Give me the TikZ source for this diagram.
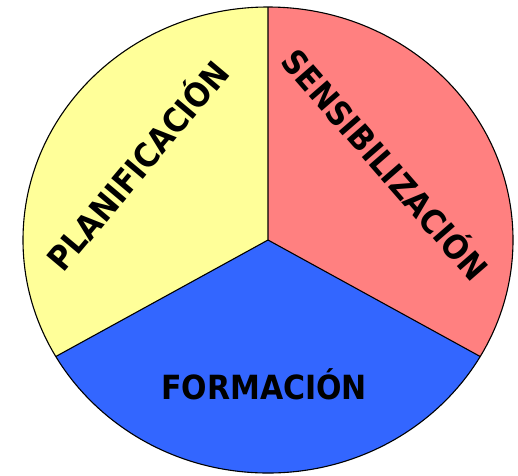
\documentclass[tikz,border=0pt]{standalone}
\usepackage{fontspec}
\setmainfont{DejaVu Sans Condensed}
\definecolor{cyellow}{HTML}{FFFF99}
\definecolor{cred}{HTML}{FF8080}
\definecolor{cblue}{HTML}{3366FF}
\tikzset{
  sector/.style={draw=black, line width=1.1pt, line join=round},
  lbl/.style={font=\fontsize{33.3}{33.3}\selectfont\bfseries, text=black, inner sep=0pt}
}
\begin{document}
\begin{tikzpicture}[x=1pt,y=1pt]
\useasboundingbox (0,0) rectangle (518,-475);
\coordinate (c) at (268,-240);
\fill[cyellow] (c) -- (268,-7) arc[start angle=90, end angle=210, x radius=245, y radius=233] -- cycle;
\fill[cblue] (c) -- (55.8,-356.5) arc[start angle=210, end angle=330, x radius=245, y radius=233] -- cycle;
\fill[cred] (c) -- (480.2,-356.5) arc[start angle=330, end angle=450, x radius=245, y radius=233] -- cycle;
\draw[sector] (c) ellipse[x radius=245, y radius=233];
\draw[sector] (268,-7) -- (c) -- (55.8,-356.5);
\draw[sector] (c) -- (480.2,-356.5);
\node[lbl, anchor=base] (form) at (264,-399) {FORMACIÓN};
\node[lbl, rotate=50] (plan) at (136,-164) {PLANIFICACIÓN};
\node[lbl, rotate=-49] (sens) at (387,-163) {SENSIBILIZACIÓN};
\end{tikzpicture}
\end{document}
